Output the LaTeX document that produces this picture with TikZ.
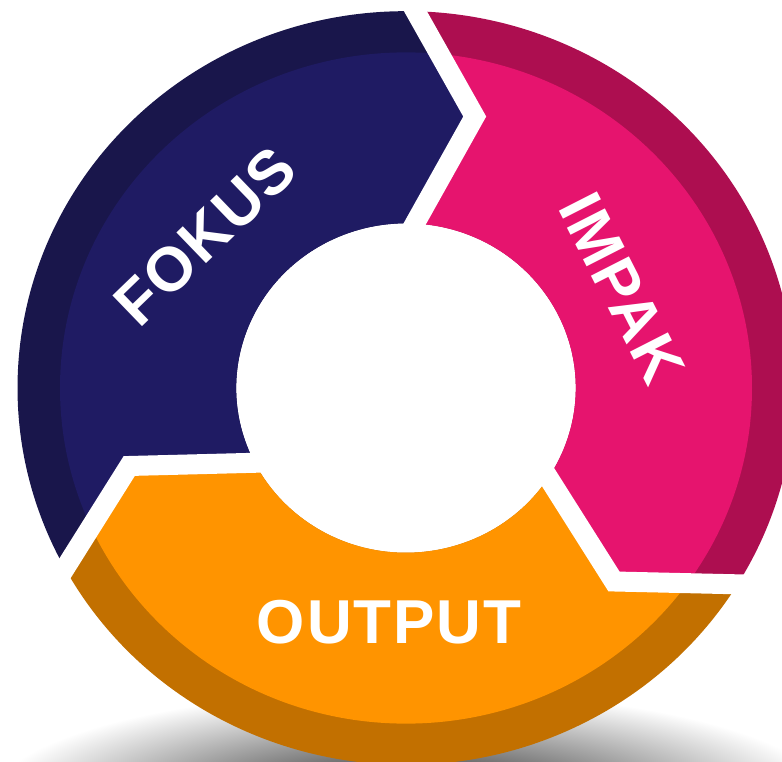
\documentclass[tikz,border=0pt]{standalone}
\usepackage{fontspec}
\newfontfamily\labelfont{Liberation Sans}[LetterSpace=3.0]
\usetikzlibrary{calc}
\definecolor{fokuslight}{HTML}{1F1B63}
\definecolor{fokusdark}{HTML}{19164B}
\definecolor{impaklight}{HTML}{E6146E}
\definecolor{impakdark}{HTML}{AD0E50}
\definecolor{outputlight}{HTML}{FF9400}
\definecolor{outputdark}{HTML}{C27000}

\begin{document}
\begin{tikzpicture}[x=1pt,y=1pt]
	\tikzstyle{gap}=[draw=white, line width=20pt, line join=miter]
	\tikzstyle{label}=[text=white, inner sep=0pt, font=\labelfont\bfseries\fontsize{62}{62}\selectfont]

	\useasboundingbox (-406,-373) rectangle (376,388);
	\clip (-406,-373) rectangle (376,388);

	\shade[inner color=black!90, outer color=white] (4,-412) ellipse (420 and 110);

	\begin{scope}[yscale=0.97]

		\foreach \a [count=\i] in {88,-32,208} {
			\coordinate (out\i) at (\a+0.6:388.5);
			\coordinate (tip\i) at (\a-11.8:288.2);
			\coordinate (in\i) at (\a-1:169.8);
		}

		\foreach \a/\dark/\light in {88/impakdark/impaklight, -32/outputdark/outputlight, 208/fokusdark/fokuslight} {
			\fill[\dark] (\a+0.6:388.5) -- (\a-11.8:288.2) -- (\a-1:169.8)
				arc[start angle=\a-1, end angle=\a-121, radius=169.8]
				-- (\a-131.8:288.2) -- (\a-119.4:388.5)
				arc[start angle=\a-119.4, end angle=\a+0.6, radius=388.5] -- cycle;
			\begin{scope}
				\clip (0,0) circle (346);
				\fill[\light] (\a+0.6:388.5) -- (\a-11.8:288.2) -- (\a-1:169.8)
					arc[start angle=\a-1, end angle=\a-121, radius=169.8]
					-- (\a-131.8:288.2) -- (\a-119.4:388.5)
					arc[start angle=\a-119.4, end angle=\a+0.6, radius=388.5] -- cycle;
			\end{scope}
		}

		\foreach \i in {1,2,3} {
			\draw[gap] ($(tip\i)!1.1!(out\i)$) -- (tip\i) -- ($(tip\i)!1.2!(in\i)$);
		}

	\end{scope}

	\node [label, rotate=44] (fokus) at (-201,152) {FOKUS};
	\node [label, rotate=-63] (impak) at (216,100) {IMPAK};
	\node [label] (output) at (-17,-234.3) {OUTPUT};
\end{tikzpicture}
\end{document}
